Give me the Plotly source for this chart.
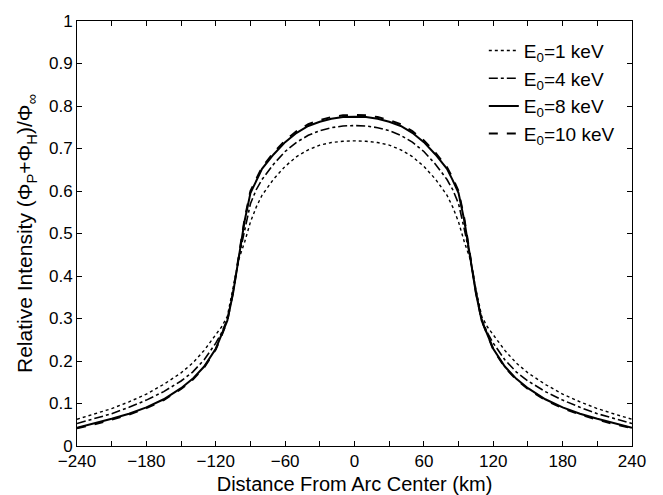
import plotly.graph_objects as go

# Distance from arc center (km)
distance_km = [-240, -225, -210, -195, -180, -165, -150, -140, -130, -120, -115, -110, -105,
               -100, -95, -90, -85, -80, -70, -60, -50, -40, -30, -20, -10,
               0,
               10, 20, 30, 40, 50, 60, 70, 80, 85, 90, 95, 100,
               105, 110, 115, 120, 130, 140, 150, 165, 180, 195, 210, 225, 240]

# E0 = 1 keV
e1_kev = [0.063, 0.075, 0.088, 0.104, 0.122, 0.145, 0.172, 0.195, 0.225, 0.262, 0.280, 0.305, 0.370,
          0.440, 0.480, 0.527, 0.562, 0.590, 0.628, 0.658, 0.681, 0.697, 0.708, 0.714, 0.717,
          0.718,
          0.717, 0.714, 0.708, 0.697, 0.681, 0.658, 0.628, 0.590, 0.562, 0.527, 0.480, 0.440,
          0.370, 0.305, 0.280, 0.262, 0.225, 0.195, 0.172, 0.145, 0.122, 0.104, 0.088, 0.075, 0.063]

# E0 = 4 keV
e4_kev = [0.053, 0.064, 0.076, 0.091, 0.108, 0.128, 0.153, 0.174, 0.203, 0.242, 0.266, 0.298, 0.362,
          0.445, 0.510, 0.570, 0.603, 0.627, 0.663, 0.693, 0.715, 0.731, 0.742, 0.749, 0.753,
          0.754,
          0.753, 0.749, 0.742, 0.731, 0.715, 0.693, 0.663, 0.627, 0.603, 0.570, 0.510, 0.445,
          0.362, 0.298, 0.266, 0.242, 0.203, 0.174, 0.153, 0.128, 0.108, 0.091, 0.076, 0.064, 0.053]

# E0 = 8 keV
e8_kev = [0.043, 0.053, 0.064, 0.076, 0.091, 0.110, 0.136, 0.158, 0.187, 0.229, 0.260, 0.295, 0.360,
          0.445, 0.530, 0.595, 0.625, 0.652, 0.686, 0.715, 0.737, 0.753, 0.763, 0.770, 0.774,
          0.775,
          0.774, 0.770, 0.763, 0.753, 0.737, 0.715, 0.686, 0.652, 0.625, 0.595, 0.530, 0.445,
          0.360, 0.295, 0.260, 0.229, 0.187, 0.158, 0.136, 0.110, 0.091, 0.076, 0.064, 0.053, 0.043]

# E0 = 10 keV
e10_kev = [0.042, 0.051, 0.062, 0.074, 0.089, 0.108, 0.134, 0.156, 0.185, 0.227, 0.259, 0.295, 0.362,
           0.450, 0.535, 0.600, 0.630, 0.656, 0.690, 0.719, 0.741, 0.757, 0.767, 0.774, 0.778,
           0.779,
           0.778, 0.774, 0.767, 0.757, 0.741, 0.719, 0.690, 0.656, 0.630, 0.600, 0.535, 0.450,
           0.362, 0.295, 0.259, 0.227, 0.185, 0.156, 0.134, 0.108, 0.089, 0.074, 0.062, 0.051, 0.042]

series_names = ["E<sub>0</sub>=1 keV", "E<sub>0</sub>=4 keV", "E<sub>0</sub>=8 keV", "E<sub>0</sub>=10 keV"]

x_tickvals = [-240, -210, -180, -150, -120, -90, -60, -30, 0, 30, 60, 90, 120, 150, 180, 210, 240]
x_ticktext = ["\u2212240", "", "\u2212180", "", "\u2212120", "", "\u221260", "", "0", "", "60", "", "120", "", "180", "", "240"]
y_tickvals = [0, 0.1, 0.2, 0.3, 0.4, 0.5, 0.6, 0.7, 0.8, 0.9, 1]
y_ticktext = ["0", "0.1", "0.2", "0.3", "0.4", "0.5", "0.6", "0.7", "0.8", "0.9", "1"]

FONT = "Liberation Sans, Arial, Helvetica, sans-serif"

fig = go.Figure()
styles = [("dot", 1.4), ("dashdot", 1.6), ("solid", 2.0), ("dash", 2.0)]
for name, ys, (dash, w) in zip(series_names, [e1_kev, e4_kev, e8_kev, e10_kev], styles):
    fig.add_trace(go.Scatter(x=distance_km, y=ys, mode="lines", name=name,
                             line=dict(color="black", width=w, dash=dash)))

# The page body adds an 8px margin, so the figure is sized to fit the 663x495 window.
fig.update_layout(
    width=655, height=487,
    margin=dict(l=69, r=31, t=4, b=39),
    paper_bgcolor="white", plot_bgcolor="white",
    font=dict(family=FONT, size=17, color="black"),
    showlegend=True,
    legend=dict(x=0.733, y=0.975, xanchor="left", yanchor="top",
                bgcolor="rgba(255,255,255,0)", borderwidth=0,
                font=dict(size=19), tracegroupgap=0),
    xaxis=dict(range=[-240, 240], tickvals=x_tickvals, ticktext=x_ticktext,
               ticks="inside", ticklen=5, tickcolor="black", mirror="ticks",
               showline=True, linecolor="black", linewidth=1, showgrid=False, zeroline=False,
               title=dict(text="Distance From Arc Center (km)", font=dict(size=20), standoff=6),
               tickfont=dict(size=17), ticklabeloverflow="allow"),
    yaxis=dict(range=[0, 1], tickvals=y_tickvals, ticktext=y_ticktext,
               ticks="inside", ticklen=5, tickcolor="black", mirror="ticks",
               showline=True, linecolor="black", linewidth=1, showgrid=False, zeroline=False,
               title=dict(text="Relative Intensity (\u03a6<sub>P</sub>+\u03a6<sub>H</sub>)/\u03a6<sub>\u221e</sub>",
                          font=dict(size=21), standoff=10),
               tickfont=dict(size=17), ticklabeloverflow="allow"),
)

fig.write_html("out.html")
